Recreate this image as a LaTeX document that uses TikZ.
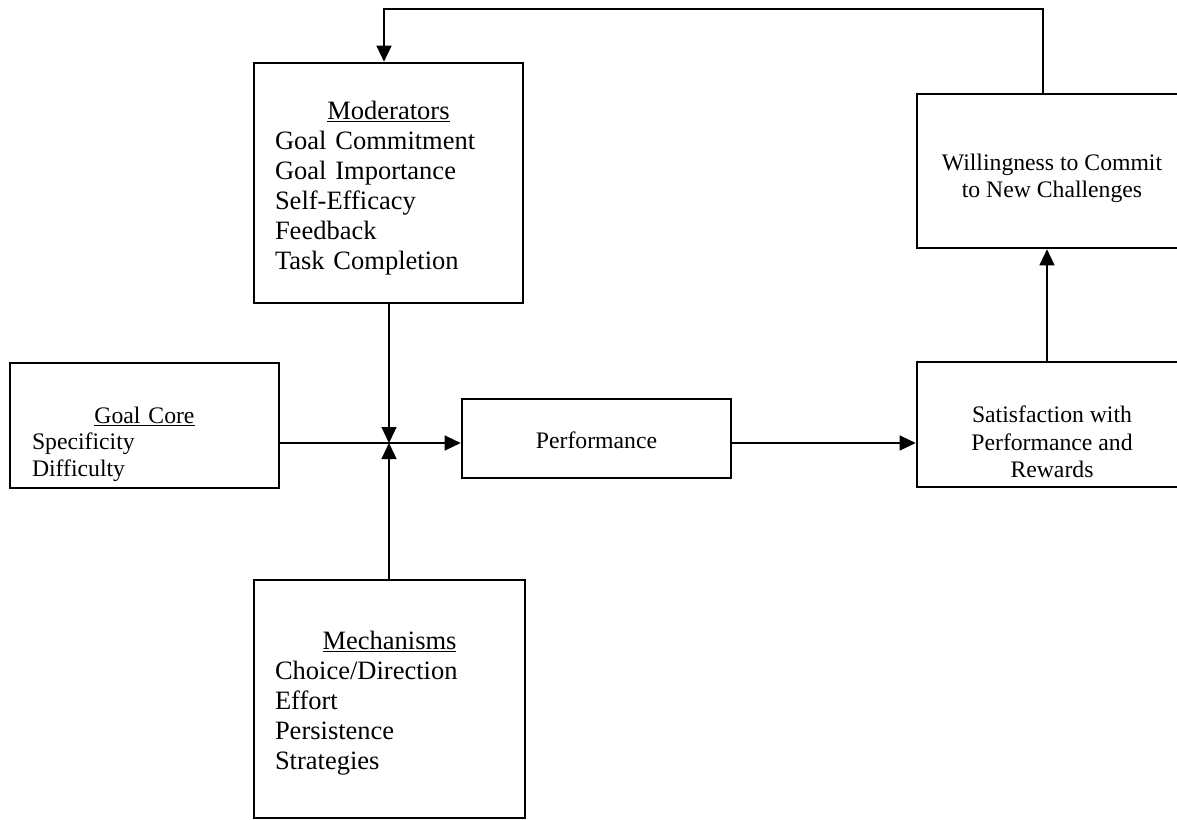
\documentclass[tikz,border=0pt]{standalone}
\usepackage{fontspec}
\setmainfont{Liberation Serif}
\usetikzlibrary{arrows.meta}
\begin{document}
\begin{tikzpicture}[x=1pt,y=-1pt,
  box/.style={draw, line width=2.6pt, rectangle, inner sep=0pt},
  conn/.style={line width=1.3pt},
  arr/.style={conn, -{Triangle[length=16pt,width=15pt]}},
  bigtxt/.style={inner sep=0pt, font=\fontsize{26.5}{30}\selectfont, align=left},
  smalltxt/.style={inner sep=0pt, font=\fontsize{23.7}{26.5}\selectfont},
  midtxt/.style={inner sep=0pt, font=\fontsize{23.7}{27.5}\selectfont, align=center},
]
\useasboundingbox (0,0) rectangle (1177,819);
\clip (0,0) rectangle (1177,819);

% boxes
\node[box, minimum width=269pt, minimum height=240pt] (mod) at (388.5,183) {};
\node[box, minimum width=271pt, minimum height=238pt] (mech) at (389.5,699) {};
\node[box, minimum width=269pt, minimum height=125pt] (gc) at (144.5,425.5) {};
\node[box, minimum width=269pt, minimum height=79pt] (perf) at (596.5,438.5) {};
\node[box, minimum width=270pt, minimum height=125pt] (sat) at (1052,424.5) {};
\node[box, minimum width=270pt, minimum height=154pt] (will) at (1052,171) {};

% texts
\node[bigtxt, text width=227pt] (modt) at (388.5,188)
  {\makebox[227pt][c]{\underline{Moderators}}\\
   Goal Commitment\\ Goal Importance\\ Self-Efficacy\\ Feedback\\ Task Completion};
\node[bigtxt, text width=229pt] (mecht) at (389.5,703)
  {\makebox[229pt][c]{\underline{Mechanisms}}\\
   Choice/Direction\\ Effort\\ Persistence\\ Strategies};
\node[smalltxt, align=left, text width=225pt] (gct) at (144.5,444)
  {\makebox[225pt][c]{\underline{Goal Core}}\\ Specificity\\ Difficulty};
\node[smalltxt] (perft) at (596.5,440) {Performance};
\node[midtxt] (satt) at (1052,442) {Satisfaction with\\ Performance and\\ Rewards};
\node[midtxt] (willt) at (1052,178.5) {Willingness to Commit\\ to New Challenges};

% connectors
\coordinate (J) at (389,443);
\coordinate (loop) at (384,9);
\draw[arr] (mod.south -| J) -- (J);
\draw[arr] (mech.north -| J) -- (J);
\draw[arr] (gc.east |- J) -- (perf.west |- J);
\draw[arr] (perf.east |- J) -- (sat.west |- J);
\draw[arr] ([xshift=-5pt]sat.north) -- ([xshift=-5pt]will.south);
\draw[arr] ([xshift=-9pt]will.north) |- (loop) -- (loop |- mod.north);
\end{tikzpicture}
\end{document}
